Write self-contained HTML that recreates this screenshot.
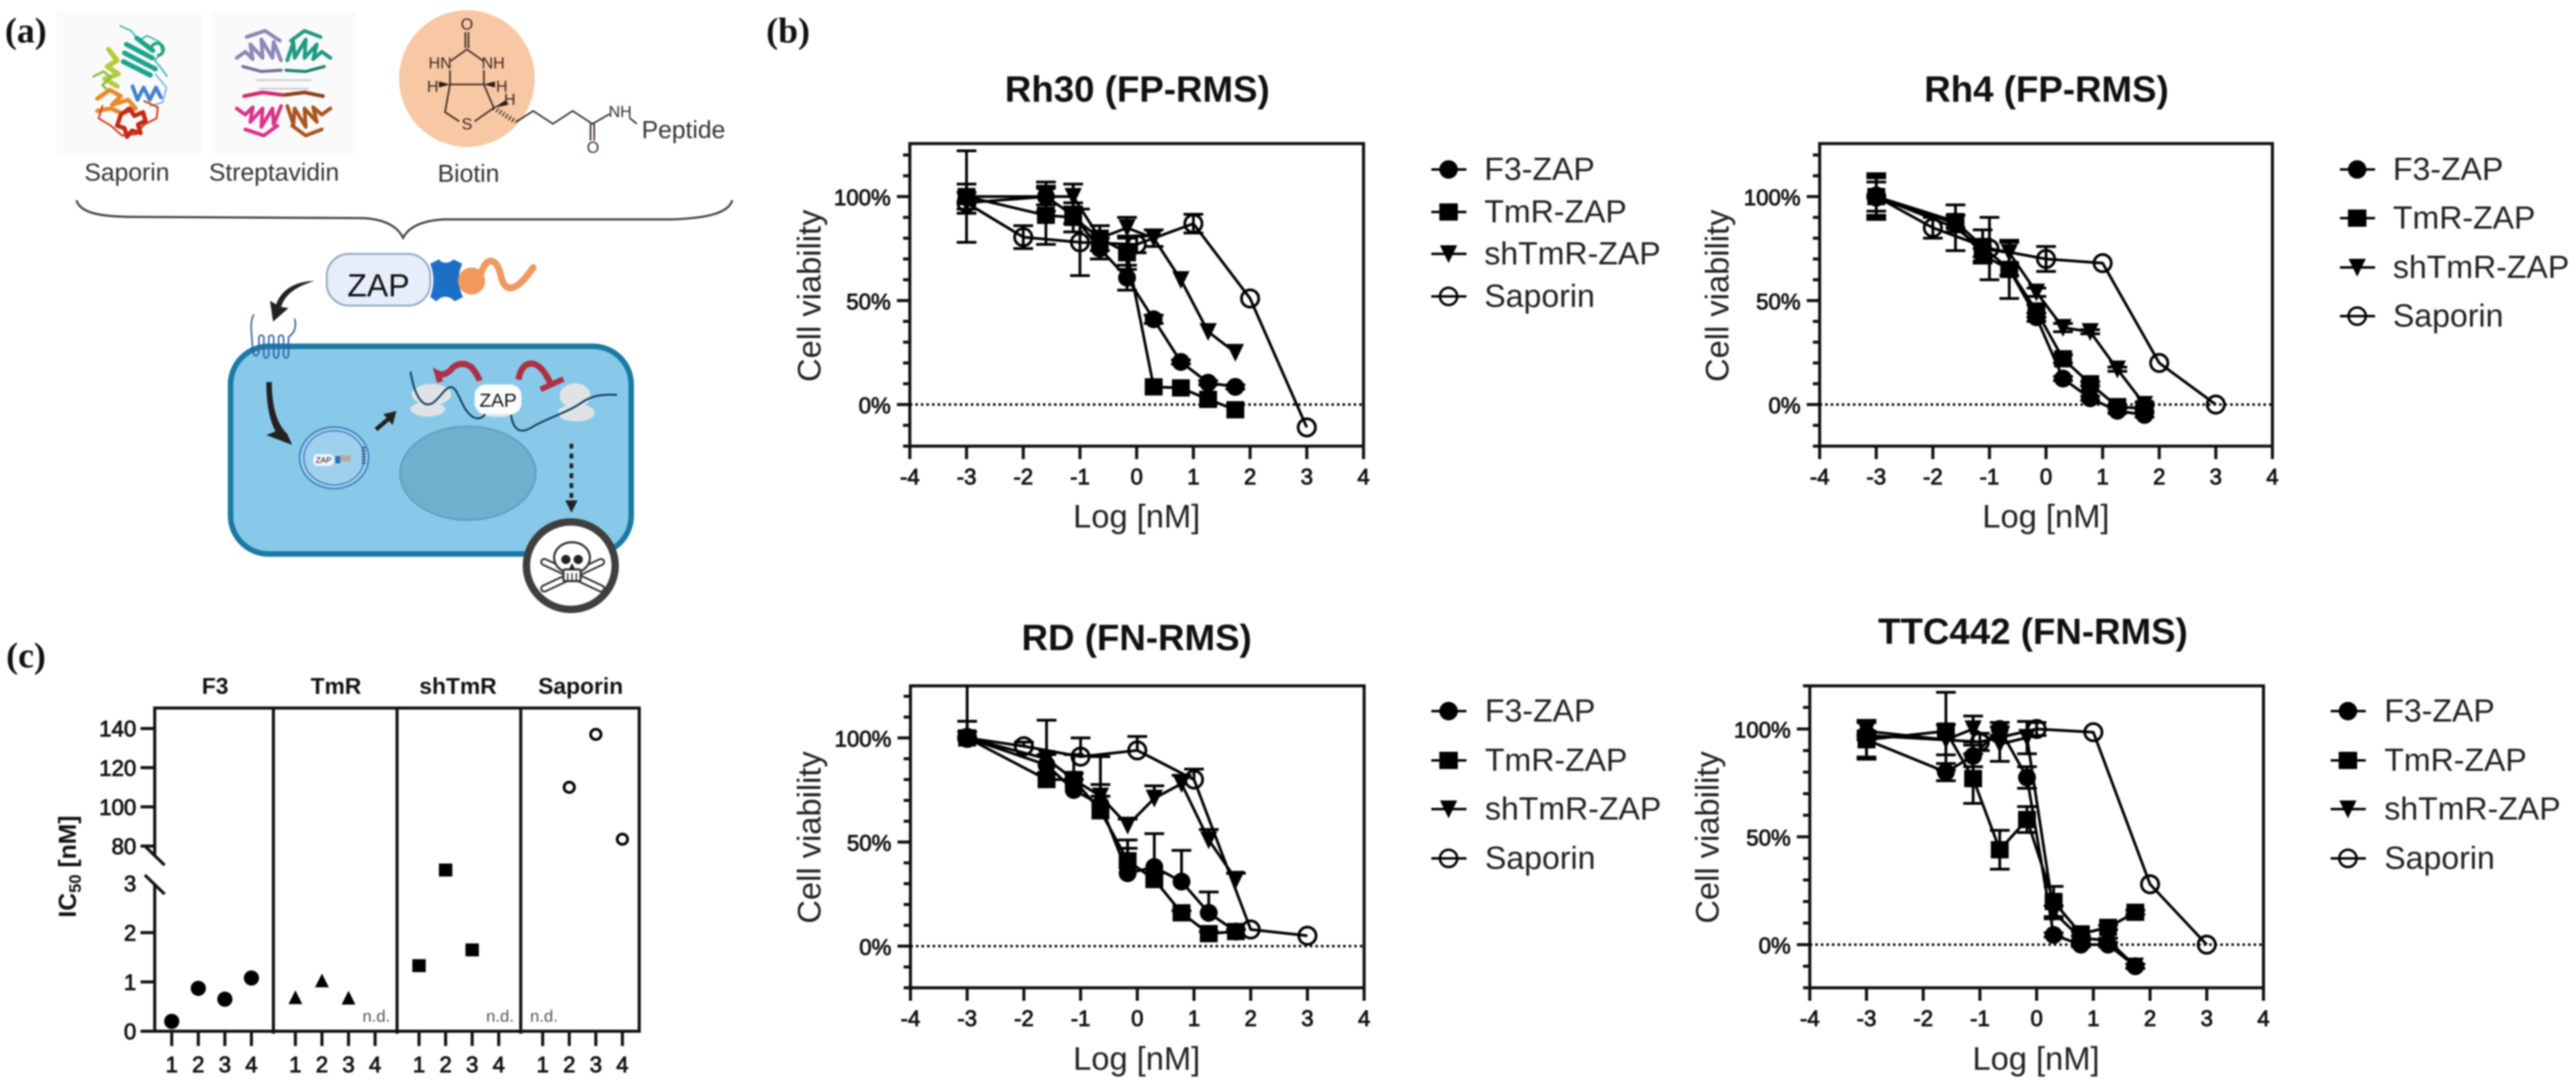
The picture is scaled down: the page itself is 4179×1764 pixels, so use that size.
<!DOCTYPE html>
<html lang="en">
<head>
<meta charset="utf-8">
<title>ZAP conjugates: schematic, cell viability curves and IC50 values</title>
<style>
html,body{margin:0;padding:0;background:#fff;}
svg{display:block;filter:blur(1.3px);}
text{font-family:"Liberation Sans",sans-serif;fill:#111;}
.tick{font-size:36px;stroke:#111;stroke-width:1.2px;}
.ttl{font-size:59.5px;font-weight:bold;text-anchor:middle;}
.axt{font-size:53px;fill:#222;}
.lg{font-size:52px;fill:#222;}
.ll{stroke:#000;stroke-width:4;fill:none;}
.pl{font-family:"Liberation Serif",serif;font-size:58px;font-weight:bold;}
.at{font-size:26px;fill:#3a2a22;}
.sc{font-size:40px;fill:#333;}
.rb{fill:none;stroke-linejoin:round;stroke-linecap:round;}
.bd{fill:none;stroke:#3a2a22;stroke-width:2.6;}
</style>
</head>
<body>
<svg id="figure" xmlns="http://www.w3.org/2000/svg" width="4179" height="1764" viewBox="0 0 4179 1764">
<rect width="4179" height="1764" fill="#fff"/>

<!-- panel labels -->
<text class="pl" x="8" y="69">(a)</text>
<text class="pl" x="1243" y="69">(b)</text>
<text class="pl" x="10" y="1083">(c)</text>

<!-- panel a -->
<g id="schematic">
  <rect x="92" y="19" width="235" height="230" fill="#fafafa"/>
  <rect x="343" y="19" width="235" height="230" fill="#fafafa"/>
  <g class="rb">
    <path d="M195 42l18 8 12 16 14-8 20 10 4 16-12 14 10 12 10 14" stroke="#36b4a6" stroke-width="2.5"/>
    <path d="M205 72l42 22M202 86l50 26M200 100l44 22M222 62l26 20" stroke="#19a58c" stroke-width="8"/>
    <path d="M245 80a10 10 0 1 1 12 10" stroke="#25a37c" stroke-width="5"/>
    <path d="M176 80l14 18-16 10 18 12-22 8 20 12" stroke="#b5cc3a" stroke-width="8"/>
    <path d="M152 124l16-8 12 10-14 12 10 10" stroke="#8fbf4d" stroke-width="4"/>
    <path d="M158 160l20-14 18 10-14 14 26-8 12 14-22 8-18-8-22 4" stroke="#ea8a2c" stroke-width="7"/>
    <path d="M215 140l8 22 10-20 10 20 10-20 8 16" stroke="#3d80cd" stroke-width="6"/>
    <path d="M252 120l18 22-6 24-20 6" stroke="#76b6dc" stroke-width="2.5"/>
    <path d="M166 172l-6 20 20 12 18 16 22-2 14-16 20-10 2-18-22-10" stroke="#cf3f22" stroke-width="3"/>
    <path d="M196 186l14-10 8 12 14-6 4 14-12 6 4 14-14-4-8 10-4-14-12-4z" stroke="#c32a18" stroke-width="7"/>
  </g>
  <g class="rb">
    <path d="M384 94l14-10 12 12-4-24 20 22-2-30 18 30 2-26 12 30M400 60l30-10 24 16" stroke="#8a88b8" stroke-width="6"/>
    <path d="M394 108l30 8 32-2" stroke="#6e70a0" stroke-width="5"/>
    <path d="M536 94l-14-10-14 12 6-24-20 22 2-30-18 30-2-26-10 30M520 60l-26-10-22 16" stroke="#1f9a82" stroke-width="6"/>
    <path d="M526 108l-30 8-32-2" stroke="#17876f" stroke-width="5"/>
    <path d="M416 130h88M420 144h80" stroke="#cfcfd2" stroke-width="3"/>
    <path d="M384 176l14 10 12-12-4 24 20-22-2 30 18-30 2 26 12-30M398 210l30 10 22-16" stroke="#d9348a" stroke-width="6"/>
    <path d="M396 156l30-6 32 4" stroke="#d52a70" stroke-width="6"/>
    <path d="M536 176l-14 10-14-12 6 24-20-22 2 30-18-30-2 26-10-30M522 210l-26 10-22-16" stroke="#a9551f" stroke-width="6"/>
    <path d="M524 156l-30-6-32 4" stroke="#8f4318" stroke-width="6"/>
  </g>
  <ellipse cx="757.5" cy="127.5" rx="110" ry="111" fill="#f8c7a3"/>
  <g>
    <path class="bd" d="M755 52V78M760 52V78M757.5 80L731 99M757.5 80L784 99M730 114V137M785 114V137M730 137H785M730 137L722 182L745 197M785 137L801 175L770 197"/>
    <path d="M730 137L712 132V142ZM785 137L803 132V142ZM801 175L821 162L825 170Z" fill="#2a1c16"/>
    <path d="M801 175L837 198" stroke="#3a2a22" stroke-width="8" stroke-dasharray="2 4" fill="none"/>
    <path class="bd" d="M837 198L865 180L897 201L929 180L961 201L989 185M958 201V228M964 201V228M1021 191L1033 201"/>
    <text class="at" x="757.5" y="48" text-anchor="middle">O</text>
    <text class="at" x="714" y="111" text-anchor="middle">HN</text>
    <text class="at" x="800" y="111" text-anchor="middle">NH</text>
    <text class="at" x="702" y="149" text-anchor="middle">H</text>
    <text class="at" x="814" y="149" text-anchor="middle">H</text>
    <text class="at" x="827" y="170" text-anchor="middle">H</text>
    <text class="at" x="757.5" y="210" text-anchor="middle">S</text>
    <text class="at" x="1006" y="190" text-anchor="middle">NH</text>
    <text class="at" x="962" y="248" text-anchor="middle">O</text>
    <text class="sc" x="1041" y="224">Peptide</text>
  </g>
  <text class="sc" x="137" y="293">Saporin</text>
  <text class="sc" x="339" y="293">Streptavidin</text>
  <text class="sc" x="710" y="295">Biotin</text>
  <path d="M124 325C130 345 160 352 220 352L590 354C625 356 645 368 654 386C663 368 685 358 720 356L1090 356C1150 354 1182 345 1188 325" fill="none" stroke="#444" stroke-width="3.5"/>

  <g>
    <rect x="530" y="412" width="168" height="84" rx="36" fill="#e5eefa" stroke="#92a6c2" stroke-width="3"/>
    <text x="614" y="481" text-anchor="middle" font-size="52" style="fill:#111">ZAP</text>
    <path d="M698 428L712 421Q722 432 736 421L750 428Q738 454 751 482L738 489Q722 474 708 489L698 482Q708 454 698 428Z" fill="#1d6fc6"/>
    <circle cx="765" cy="456" r="22" fill="#f0995a"/>
    <path d="M780 444C790 415 805 418 812 445C818 475 835 478 865 434" fill="none" stroke="#ee9a60" stroke-width="11" stroke-linecap="round"/>
  </g>
  <path d="M510 456C480 465 462 478 456 498L468 500L443 522L438 488L448 494C456 470 480 456 510 456Z" fill="#222"/>

  <g>
    <rect x="374" y="562" width="650" height="337" rx="62" fill="#88c9ea" stroke="#1a7ba2" stroke-width="9"/>
    <ellipse cx="759" cy="768" rx="110" ry="76" fill="#6fb0cd" stroke="#5ea1bf" stroke-width="3"/>
    <path d="M478 517q5 20-10 30v30q-4 8-8 0v-30q-4-6-8 0v30q-4 8-8 0v-30q-4-6-8 0v30q-4 8-8 0v-30q-4-6-8 0v25q-6 12-10-2l-2-30q-2-20 4-30" fill="none" stroke="#2f5f9f" stroke-width="2.5"/>
    <path d="M432 620L441 620C441 660 449 688 466 704L474 722L432 706L447 700C436 680 432 650 432 620Z" fill="#222"/>
    <g>
      <ellipse cx="542" cy="743" rx="56" ry="50" fill="#9fd2ee" stroke="#3f78b8" stroke-width="2.5"/>
      <ellipse cx="542" cy="743" rx="49" ry="44" fill="#9ed1ee" stroke="#3f78b8" stroke-width="2"/>
      <rect x="508" y="737" width="34" height="19" rx="8" fill="#f2f5fa"/>
      <text x="525" y="751" text-anchor="middle" font-size="13">ZAP</text>
      <rect x="544" y="740" width="8" height="12" fill="#2b6cb5"/>
      <rect x="553" y="739" width="16" height="10" fill="#b8a89a"/>
      <path d="M590 725v30" stroke="#2f5f9f" stroke-width="6" stroke-dasharray="3 2"/>
    </g>
    <path d="M610 697L630 680" stroke="#222" stroke-width="7"/>
    <path d="M622 672L643 667L637 690Z" fill="#222"/>
    <g fill="#e0e3e5">
      <ellipse cx="700" cy="640" rx="32" ry="17"/>
      <ellipse cx="694" cy="664" rx="28" ry="12"/>
      <ellipse cx="933" cy="642" rx="25" ry="20"/>
      <ellipse cx="935" cy="670" rx="30" ry="14"/>
      <ellipse cx="807" cy="665" rx="32" ry="12"/>
    </g>
    <path d="M666 603C672 640 685 664 702 654C715 645 722 628 732 628C745 630 748 668 770 678C782 682 788 672 790 665M829 673C832 695 842 705 860 695C885 680 905 675 933 660C950 650 960 638 1001 641" fill="none" stroke="#0f3b57" stroke-width="3"/>
    <rect x="770" y="624" width="76" height="48" rx="18" fill="#fbfcfd"/>
    <text x="808" y="660" text-anchor="middle" font-size="31">ZAP</text>
    <path d="M714 620L710 606Q722 612 735 596Q750 585 765 596Q776 610 778 618M841 616Q846 590 862 590Q878 590 893 622" fill="none" stroke="#ae3044" stroke-width="10"/>
    <path d="M877 632L914 615" stroke="#ae3044" stroke-width="9"/>
    <path d="M927 720V815" stroke="#222" stroke-width="6" stroke-dasharray="8 8"/>
    <path d="M917 812H937L927 832Z" fill="#222"/>
  </g>
  <g>
    <ellipse cx="926" cy="918" rx="72" ry="71" fill="#fff" stroke="#3f3f3f" stroke-width="12"/>
    <path d="M883 912L975 955M975 912L883 955" stroke="#333" stroke-width="13" stroke-linecap="round"/>
    <path d="M883 912L975 955M975 912L883 955" stroke="#fff" stroke-width="7" stroke-linecap="round"/>
    <ellipse cx="928" cy="905" rx="29" ry="25" fill="#fff" stroke="#333" stroke-width="3.5"/>
    <rect x="914" y="924" width="28" height="19" rx="3" fill="#fff" stroke="#333" stroke-width="3.5"/>
    <circle cx="918" cy="908" r="7.5" fill="#222"/>
    <circle cx="938" cy="908" r="7.5" fill="#222"/>
    <path d="M928 916l-4 8h8zM921 930v12M928 930v12M935 930v12" fill="#222" stroke="#222" stroke-width="2"/>
  </g>
</g>

<!-- chart titles -->
<text class="ttl" x="1845" y="165">Rh30 (FP-RMS)</text>
<text class="ttl" x="3320" y="165">Rh4 (FP-RMS)</text>
<text class="ttl" x="1844" y="1055">RD (FN-RMS)</text>
<text class="ttl" x="3298" y="1045">TTC442 (FN-RMS)</text>

<!-- axis titles -->
<text class="axt" transform="translate(1331,480) rotate(-90)" text-anchor="middle">Cell viability</text>
<text class="axt" transform="translate(2804,480) rotate(-90)" text-anchor="middle">Cell viability</text>
<text class="axt" transform="translate(1331,1359) rotate(-90)" text-anchor="middle">Cell viability</text>
<text class="axt" transform="translate(2788,1359) rotate(-90)" text-anchor="middle">Cell viability</text>
<text class="axt" x="1844" y="856" text-anchor="middle">Log [nM]</text>
<text class="axt" x="3319" y="856" text-anchor="middle">Log [nM]</text>
<text class="axt" x="1844" y="1736" text-anchor="middle">Log [nM]</text>
<text class="axt" x="3303" y="1736" text-anchor="middle">Log [nM]</text>

<!-- legends -->
<g>
  <g transform="translate(2350,275)"><path class="ll" d="M-28 0H29"/><circle r="15"/><text class="lg" x="58" y="17">F3-ZAP</text></g>
  <g transform="translate(2350,344)"><path class="ll" d="M-28 0H29"/><rect x="-15" y="-14" width="30" height="28"/><text class="lg" x="58" y="17">TmR-ZAP</text></g>
  <g transform="translate(2350,412)"><path class="ll" d="M-28 0H29"/><path d="M-14-14H14L0 15Z"/><text class="lg" x="58" y="17">shTmR-ZAP</text></g>
  <g transform="translate(2350,481)"><path class="ll" d="M-28 0H29"/><circle r="14" fill="none" stroke="#000" stroke-width="4"/><text class="lg" x="58" y="17">Saporin</text></g>
</g>
<g>
  <g transform="translate(3824,275)"><path class="ll" d="M-28 0H29"/><circle r="15"/><text class="lg" x="58" y="17">F3-ZAP</text></g>
  <g transform="translate(3824,354)"><path class="ll" d="M-28 0H29"/><rect x="-15" y="-14" width="30" height="28"/><text class="lg" x="58" y="17">TmR-ZAP</text></g>
  <g transform="translate(3824,434)"><path class="ll" d="M-28 0H29"/><path d="M-14-14H14L0 15Z"/><text class="lg" x="58" y="17">shTmR-ZAP</text></g>
  <g transform="translate(3824,513)"><path class="ll" d="M-28 0H29"/><circle r="14" fill="none" stroke="#000" stroke-width="4"/><text class="lg" x="58" y="17">Saporin</text></g>
</g>
<g>
  <g transform="translate(2350,1154)"><path class="ll" d="M-28 0H29"/><circle r="15"/><text class="lg" x="59" y="17">F3-ZAP</text></g>
  <g transform="translate(2350,1234)"><path class="ll" d="M-28 0H29"/><rect x="-15" y="-14" width="30" height="28"/><text class="lg" x="59" y="17">TmR-ZAP</text></g>
  <g transform="translate(2350,1313)"><path class="ll" d="M-28 0H29"/><path d="M-14-14H14L0 15Z"/><text class="lg" x="59" y="17">shTmR-ZAP</text></g>
  <g transform="translate(2350,1393)"><path class="ll" d="M-28 0H29"/><circle r="14" fill="none" stroke="#000" stroke-width="4"/><text class="lg" x="59" y="17">Saporin</text></g>
</g>
<g>
  <g transform="translate(3809,1154)"><path class="ll" d="M-28 0H29"/><circle r="15"/><text class="lg" x="59" y="17">F3-ZAP</text></g>
  <g transform="translate(3809,1234)"><path class="ll" d="M-28 0H29"/><rect x="-15" y="-14" width="30" height="28"/><text class="lg" x="59" y="17">TmR-ZAP</text></g>
  <g transform="translate(3809,1313)"><path class="ll" d="M-28 0H29"/><path d="M-14-14H14L0 15Z"/><text class="lg" x="59" y="17">shTmR-ZAP</text></g>
  <g transform="translate(3809,1393)"><path class="ll" d="M-28 0H29"/><circle r="14" fill="none" stroke="#000" stroke-width="4"/><text class="lg" x="59" y="17">Saporin</text></g>
</g>

<!-- panel c static labels -->
<g id="ic50">
  <text x="349" y="1126" text-anchor="middle" font-size="37" font-weight="bold">F3</text>
  <text x="545" y="1126" text-anchor="middle" font-size="37" font-weight="bold">TmR</text>
  <text x="743" y="1126" text-anchor="middle" font-size="37" font-weight="bold">shTmR</text>
  <text x="942" y="1126" text-anchor="middle" font-size="37" font-weight="bold">Saporin</text>
  <text transform="translate(123,1489) rotate(-90)" font-size="40" font-weight="bold">IC<tspan font-size="27" dy="8">50</tspan><tspan dy="-8"> [nM]</tspan></text>
</g>
<g id="charts"></g>

<script>
// ---------- Panel b data ----------
const zapDoses = [-3, -1.6, -1.12, -0.65, -0.17, 0.3, 0.78, 1.26, 1.74];
const saporinDoses = [-3, -2, -1, 0, 1, 2, 3];
const ttcSaporinDoses = [-3, -1, 0, 1, 2, 3];
const xTickValues = [-4, -3, -2, -1, 0, 1, 2, 3, 4];
const xTickLabels = ['-4', '-3', '-2', '-1', '0', '1', '2', '3', '4'];
const yMajorValues = [0, 50, 100];
const yMajorLabels = ['0%', '50%', '100%'];
const yMinorValues = [-20, -10, 10, 20, 30, 40, 60, 70, 80, 90, 110, 120];

const rh30F3 = [100, 100, 91, 75, 61, 41, 20.5, 10.5, 8.5];
const rh30TmR = [100, 91, 90, 80, 73, 8.5, 8, 2.5, -2.5];
const rh30ShTmR = [97, 100, 100, 80, 85, 80, 60, 35, 25];
const rh30Saporin = [97, 80.5, 78, 77, 87, 51, -11];
const rh30F3Err = [22, 4, 4, 5, 6, 2, 1, 1, 1];
const rh30TmRErr = [6, 14, 7, 6, 8, 0, 0, 0, 0];
const rh30ShTmRErr = [5, 7, 6, 6, 5, 4, 0, 0, 0];
const rh30SaporinErr = [5, 5.5, 16, 4, 4.5, 0, 0];

const rh4F3 = [100, 87, 72, 65, 42, 12.5, 3, -3, -5];
const rh4TmR = [100, 88, 76, 65, 45, 22, 10, -1, -2];
const rh4ShTmR = [100, 85, 75, 73, 54, 37, 35, 17, 0];
const rh4Saporin = [100, 85, 75, 70, 68, 20, 0];
const rh4F3Err = [9, 4, 3, 3, 2, 1, 1, 1, 1];
const rh4TmRErr = [11, 3, 8, 14, 3, 2, 1, 1, 1];
const rh4ShTmRErr = [7, 11, 4, 5, 2, 2, 1, 1, 1];
const rh4SaporinErr = [10, 5, 15, 6, 0, 0, 0];

const rdF3 = [100, 87, 75, 68, 35, 38, 31, 16, 7];
const rdTmR = [100, 80, 80, 65, 41, 32, 16, 6, 7];
const rdShTmR = [100, 90, 80, 72, 58, 71, 78, 51, 32];
const rdSaporin = [100, 96, 91, 94, 80, 8, 5];
const rdF3Err = [3, 5, 5, 4, 16, 16, 15, 10, 1];
const rdTmRErr = [3, 3, 3, 26, 6, 3, 1, 1, 1];
const rdShTmRErr = [8, 18.5, 12, 5.6, 3, 6, 4, 5, 3];
const rdSaporinErr = [30, 2, 9, 6.7, 5, 0, 0];

const ttcF3 = [95, 80, 87.5, 100, 77.5, 4.5, 0, 0, -10];
const ttcTmR = [95, 99, 77, 44, 58, 20, 5, 8, 15];
const ttcShTmR = [99, 95, 100, 93, 96, 15, 3, 2, -10];
const ttcSaporin = [97, 94, 100, 98.5, 28, 0];
const ttcF3Err = [8, 4, 5, 3, 5, 1, 1, 1, 1];
const ttcTmRErr = [9, 18, 11.5, 9, 6, 7, 1, 1, 1];
const ttcShTmRErr = [4, 7, 6, 8, 7.5, 3, 1, 1, 1];
const ttcSaporinErr = [2, 4, 3, 0, 0, 0];

// ---------- Panel c data ----------
const icCategories = ['1', '2', '3', '4'];
const icF3 = [0.2, 0.87, 0.65, 1.08];
const icTmR = [0.68, 1.02, 0.67, null];
const icShTmR = [1.33, 3.27, 1.65, null];
const icSaporin = [null, 110, 137, 83.5];
const icLowerTicks = [0, 1, 2, 3];
const icUpperTicks = [80, 100, 120, 140];

// ---------- Helpers ----------
const SVGNS = 'http://www.w3.org/2000/svg';
function mk(tag, attrs, parent, text) {
  const el = document.createElementNS(SVGNS, tag);
  for (const k in attrs) el.setAttribute(k, attrs[k]);
  if (text !== undefined) el.textContent = text;
  parent.appendChild(el);
  return el;
}
function drawMarker(parent, kind, cx, cy, sc) {
  const s = sc || 1;
  let el;
  if (kind === 'circle') {
    el = mk('circle', {cx: cx, cy: cy, r: 14.5 * s, fill: '#000'}, parent);
  } else if (kind === 'square') {
    el = mk('rect', {x: cx - 14.5 * s, y: cy - 14 * s, width: 29 * s, height: 28 * s, fill: '#000'}, parent);
  } else if (kind === 'triangle') {
    el = mk('path', {d: 'M' + (cx - 14 * s) + ' ' + (cy - 14 * s) + 'H' + (cx + 14 * s) + 'L' + cx + ' ' + (cy + 15 * s) + 'Z', fill: '#000'}, parent);
  } else if (kind === 'triangle-up') {
    el = mk('path', {d: 'M' + (cx - 14 * s) + ' ' + (cy + 13 * s) + 'H' + (cx + 14 * s) + 'L' + cx + ' ' + (cy - 15 * s) + 'Z', fill: '#000'}, parent);
  } else {
    el = mk('circle', {cx: cx, cy: cy, r: 14 * s, fill: 'none', stroke: '#000', 'stroke-width': 4.5}, parent);
  }
  
  
  return el;
}

// ---------- Panel b charts ----------
const chartConfigs = [
  {key: 'rh30', x0: 1476, x1: 2212, yTop: 233, yBot: 724, yMax: 125.5, oneSided: false, sapX: saporinDoses,
   f3: rh30F3, tmr: rh30TmR, sh: rh30ShTmR, sap: rh30Saporin, f3e: rh30F3Err, tmre: rh30TmRErr, she: rh30ShTmRErr, sape: rh30SaporinErr},
  {key: 'rh4', x0: 2952, x1: 3686.5, yTop: 233, yBot: 724, yMax: 125.5, oneSided: false, sapX: saporinDoses,
   f3: rh4F3, tmr: rh4TmR, sh: rh4ShTmR, sap: rh4Saporin, f3e: rh4F3Err, tmre: rh4TmRErr, she: rh4ShTmRErr, sape: rh4SaporinErr},
  {key: 'rd', x0: 1477, x1: 2213, yTop: 1113, yBot: 1603, yMax: 125, oneSided: true, sapX: saporinDoses,
   f3: rdF3, tmr: rdTmR, sh: rdShTmR, sap: rdSaporin, f3e: rdF3Err, tmre: rdTmRErr, she: rdShTmRErr, sape: rdSaporinErr},
  {key: 'ttc442', x0: 2936, x1: 3672, yTop: 1113, yBot: 1603, yMax: 120, oneSided: false, sapX: ttcSaporinDoses,
   f3: ttcF3, tmr: ttcTmR, sh: ttcShTmR, sap: ttcSaporin, f3e: ttcF3Err, tmre: ttcTmRErr, she: ttcShTmRErr, sape: ttcSaporinErr}
];

const chartsRoot = document.getElementById('charts');

chartConfigs.forEach(function (cfg) {
  const xScale = function (v) { return cfg.x0 + (v + 4) * (cfg.x1 - cfg.x0) / 8; };
  const yScale = function (v) { return cfg.yBot - (v + 20) * (cfg.yBot - cfg.yTop) / (cfg.yMax + 20); };

  const g = mk('g', {}, chartsRoot);
  
  

  const clipId = 'clip-' + cfg.key;
  const defs = mk('defs', {}, g);
  const clip = mk('clipPath', {id: clipId}, defs);
  mk('rect', {x: cfg.x0, y: cfg.yTop, width: cfg.x1 - cfg.x0, height: cfg.yBot - cfg.yTop}, clip);

  const frame = mk('rect', {x: cfg.x0, y: cfg.yTop, width: cfg.x1 - cfg.x0, height: cfg.yBot - cfg.yTop, fill: 'none', stroke: '#111', 'stroke-width': 5}, g);
  
  

  const zero = mk('line', {x1: cfg.x0, x2: cfg.x1, y1: yScale(0), y2: yScale(0), stroke: '#000', 'stroke-width': 4, 'stroke-dasharray': '4 5'}, g);
  
  

  xTickValues.forEach(function (v, i) {
    const t = mk('line', {x1: xScale(v), x2: xScale(v), y1: cfg.yBot, y2: cfg.yBot + 21, stroke: '#111', 'stroke-width': 5}, g);
    
    
    const l = mk('text', {x: xScale(v), y: cfg.yBot + 62, 'text-anchor': 'middle', class: 'tick'}, g, xTickLabels[i]);
    
    
  });
  yMajorValues.forEach(function (v, i) {
    const t = mk('line', {x1: cfg.x0 - 21, x2: cfg.x0, y1: yScale(v), y2: yScale(v), stroke: '#111', 'stroke-width': 5}, g);
    
    
    const l = mk('text', {x: cfg.x0 - 31, y: yScale(v) + 14, 'text-anchor': 'end', class: 'tick'}, g, yMajorLabels[i]);
    
    
  });
  yMinorValues.forEach(function (v) {
    const t = mk('line', {x1: cfg.x0 - 11, x2: cfg.x0, y1: yScale(v), y2: yScale(v), stroke: '#111', 'stroke-width': 5}, g);
    
    
  });

  // Draw order: last series underneath, F3 on top.
  const seriesList = [
    {name: 'saporin', kind: 'hollow', xs: cfg.sapX, ys: cfg.sap, es: cfg.sape},
    {name: 'shtmr-zap', kind: 'triangle', xs: zapDoses, ys: cfg.sh, es: cfg.she},
    {name: 'tmr-zap', kind: 'square', xs: zapDoses, ys: cfg.tmr, es: cfg.tmre},
    {name: 'f3-zap', kind: 'circle', xs: zapDoses, ys: cfg.f3, es: cfg.f3e}
  ];
  seriesList.forEach(function (s) {
    const sg = mk('g', {}, g);
    
    
    const errG = mk('g', {'clip-path': 'url(#' + clipId + ')', stroke: '#000', 'stroke-width': 4.5}, sg);
    
    
    s.xs.forEach(function (xv, i) {
      const e = s.es[i];
      if (!e) return;
      const px = xScale(xv);
      const hi = yScale(s.ys[i] + e);
      const lo = yScale(s.ys[i] - e);
      mk('line', {x1: px, x2: px, y1: hi, y2: cfg.oneSided ? yScale(s.ys[i]) : lo}, errG);
      mk('line', {x1: px - 16, x2: px + 16, y1: hi, y2: hi}, errG);
      if (!cfg.oneSided) mk('line', {x1: px - 16, x2: px + 16, y1: lo, y2: lo}, errG);
    });
    const pts = s.xs.map(function (xv, i) { return xScale(xv) + ',' + yScale(s.ys[i]); }).join(' ');
    const line = mk('polyline', {points: pts, fill: 'none', stroke: '#000', 'stroke-width': 4.5, 'stroke-linejoin': 'round'}, sg);
    
    
    s.xs.forEach(function (xv, i) {
      drawMarker(sg, s.kind, xScale(xv), yScale(s.ys[i]));
    });
  });
});

// ---------- Panel c chart ----------
(function () {
  const root = document.getElementById('ic50');
  const left = 251, right = 1037, top = 1149, bottom = 1673.5;
  const dividerGroups = [0, 1, 2];
  const yScale = function (v) {
    return v < 40 ? bottom - v * 80 : 1373 - (v - 80) * 3.18;
  };
  const xScale = function (group, idx) { return 278.6 + idx * 43.1 + group * 200.6; };

  const stroke = {stroke: '#111', 'stroke-width': 5, fill: 'none'};
  const axes = mk('path', Object.assign({d: 'M' + left + ' ' + yScale(3) + 'V' + bottom + 'H' + right + 'V' + top + 'H' + left + 'V1389'}, stroke), root);
  
  

  const breakMarks = mk('path', Object.assign({d: 'M235 1373L267 1404M235 1420L267 1451'}, stroke), root);
  
  

  dividerGroups.forEach(function (g) {
    const px = (xScale(g, 3) + xScale(g + 1, 0)) / 2;
    const d = mk('line', Object.assign({x1: px, x2: px, y1: top, y2: bottom + 4}, stroke), root);
    
    
  });

  icLowerTicks.forEach(function (v) {
    if (v !== 3) {
      const t = mk('line', Object.assign({x1: left - 23, x2: left, y1: yScale(v), y2: yScale(v)}, stroke), root);
      
      
    }
    const l = mk('text', {x: 221, y: yScale(v) + 13, 'text-anchor': 'end', class: 'tick'}, root, String(v));
    
    
  });
  icUpperTicks.forEach(function (v) {
    const t = mk('line', Object.assign({x1: left - 23, x2: left, y1: yScale(v), y2: yScale(v)}, stroke), root);
    
    
    const l = mk('text', {x: 221, y: yScale(v) + 13, 'text-anchor': 'end', class: 'tick'}, root, String(v));
    
    
  });

  const icGroups = [
    {name: 'f3', kind: 'circle', scale: 0.85, values: icF3},
    {name: 'tmr', kind: 'triangle-up', scale: 0.8, values: icTmR},
    {name: 'shtmr', kind: 'square', scale: 0.75, values: icShTmR},
    {name: 'saporin', kind: 'hollow', scale: 0.6, values: icSaporin}
  ];
  icGroups.forEach(function (grp, g) {
    const sg = mk('g', {}, root);
    
    
    icCategories.forEach(function (cat, i) {
      const px = xScale(g, i);
      const t = mk('line', Object.assign({x1: px, x2: px, y1: bottom, y2: bottom + 24}, stroke), sg);
      
      
      const l = mk('text', {x: px, y: 1740, 'text-anchor': 'middle', class: 'tick'}, sg, cat);
      
      
      const v = grp.values[i];
      if (v === null) {
        const nd = mk('text', {x: px + 2, y: 1658, 'text-anchor': 'middle', 'font-size': 27, style: 'fill:#555'}, sg, 'n.d.');
        
        
      } else {
        drawMarker(sg, grp.kind, px, yScale(v), grp.scale);
      }
    });
  });
})();
</script>
</svg>
</body>
</html>
